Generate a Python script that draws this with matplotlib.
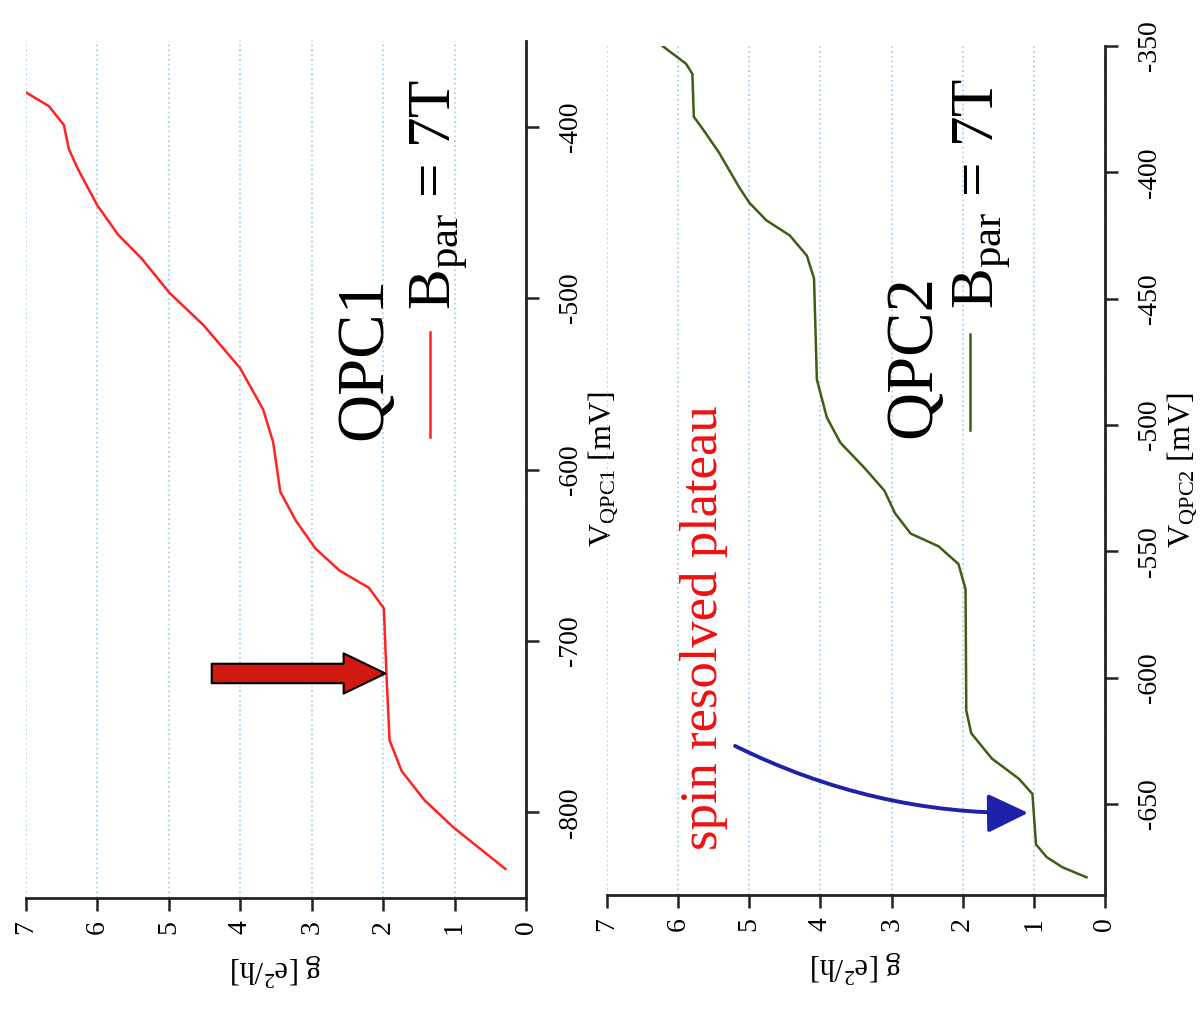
import numpy as np
import matplotlib
matplotlib.use("Agg")
import matplotlib.pyplot as plt
from matplotlib.patches import FancyArrowPatch

plt.rcParams['font.family'] = ['Liberation Serif', 'DejaVu Serif']
plt.rcParams['mathtext.fontset'] = 'custom'
plt.rcParams['mathtext.rm'] = 'Liberation Serif'
plt.rcParams['mathtext.it'] = 'Liberation Serif:italic'
plt.rcParams['axes.unicode_minus'] = False

# QPC1 trace (gate voltage mV, conductance e^2/h)
v_qpc1 = [-833, -809, -793, -776, -758, -723, -681, -669, -659, -646, -630, -613,
          -584, -565, -541, -516, -497, -477, -463, -446, -425, -413, -399, -388, -380]
g_qpc1 = [0.29, 1.01, 1.42, 1.74, 1.91, 1.95, 1.99, 2.20, 2.61, 2.95, 3.22, 3.44,
          3.54, 3.68, 4.00, 4.51, 4.99, 5.38, 5.71, 6.00, 6.27, 6.40, 6.47, 6.68, 7.0]

# QPC2 trace
v_qpc2 = [-679, -675, -671, -666, -646, -640, -632, -622, -613, -565, -555, -548,
          -543, -535, -526, -517, -507, -497, -482, -442, -433, -425, -419, -412,
          -406, -392, -383, -378, -361, -357, -350]
g_qpc2 = [0.26, 0.60, 0.82, 0.97, 1.02, 1.21, 1.59, 1.88, 1.95, 1.96, 2.06, 2.34,
          2.73, 2.95, 3.10, 3.38, 3.72, 3.91, 4.05, 4.09, 4.19, 4.43, 4.76, 5.0,
          5.14, 5.43, 5.65, 5.78, 5.80, 5.89, 6.22]

g_ticks = [0, 1, 2, 3, 4, 5, 6, 7]
v1_ticks = [-800, -700, -600, -500, -400]
v2_ticks = [-650, -600, -550, -500, -450, -400, -350]

fig = plt.figure(figsize=(12, 10.15), dpi=100)
ax1 = fig.add_axes([26/1200, 1-898/1015, 500/1200, 857/1015])
ax2 = fig.add_axes([607/1200, 1-895/1015, 498/1200, 849/1015])


def style(ax, vticks, vlim, vlabel):
    ax.set_facecolor('none')
    ax.set_xlim(7, 0)
    ax.set_ylim(*vlim)
    ax.set_xticks(g_ticks)
    ax.set_yticks(vticks)
    ax.yaxis.tick_right()
    ax.yaxis.set_label_position('right')
    for s in ['top', 'left']:
        ax.spines[s].set_visible(False)
    for s in ['bottom', 'right']:
        ax.spines[s].set_linewidth(2)
        ax.spines[s].set_color('#222222')
    ax.tick_params(axis='both', direction='out', length=9, width=1.8,
                   labelsize=20, color='#222222')
    ax.tick_params(axis='x', labelrotation=90, pad=7)
    ax.tick_params(axis='y', labelrotation=90, pad=14)
    for lab in ax.get_yticklabels():
        lab.set_va('center')
    ax.grid(axis='x', color='#a8d4f0', linestyle=':', linewidth=1.3)
    ax.set_xlabel(r'g [e$^{2}$/h]', fontsize=22, rotation=180, labelpad=12)
    ax.set_ylabel(vlabel, fontsize=23, rotation=90, labelpad=2)


style(ax1, v1_ticks, (-850, -350), r'V$_{\rm QPC1}$ [mV]')
style(ax2, v2_ticks, (-686, -350), r'V$_{\rm QPC2}$ [mV]')

ax1.plot(g_qpc1, v_qpc1, color='#ff2222', lw=1.8)
ax2.plot(g_qpc2, v_qpc2, color='#3d5e14', lw=1.8)

# labels / legends (rotated like the rest of the figure)
ax1.text(2.02, -583, 'QPC1', fontsize=48, rotation=90, rotation_mode='anchor',
         ha='left', va='baseline')
ax1.text(1.06, -507, r'B$_{\rm par}$ = 7T', fontsize=44, rotation=90,
         rotation_mode='anchor', ha='left', va='baseline')
ax1.plot([1.34, 1.34], [-520, -581], color='#ff2222', lw=1.8)

ax2.text(2.46, -505, 'QPC2', fontsize=48, rotation=90, rotation_mode='anchor',
         ha='left', va='baseline')
ax2.text(1.57, -454, r'B$_{\rm par}$ = 7T', fontsize=44, rotation=90,
         rotation_mode='anchor', ha='left', va='baseline')
ax2.plot([1.90, 1.90], [-464, -502], color='#3d5e14', lw=1.8)

ax2.text(5.45, -668, 'spin resolved plateau', fontsize=38, color='#ee1111',
         rotation=90, rotation_mode='anchor', ha='left', va='baseline')

# red block arrow pointing at the 2 e^2/h plateau
red_arrow = FancyArrowPatch((4.40, -719), (1.97, -719),
                            arrowstyle='simple,head_width=29,head_length=30,tail_width=14',
                            mutation_scale=1, fc='#d01a10', ec='black', lw=1.5,
                            shrinkA=0, shrinkB=0, zorder=5)
ax1.add_patch(red_arrow)

# curved blue arrow to the 1 e^2/h plateau
blue_arrow = FancyArrowPatch((5.20, -627), (1.08, -653.5),
                             connectionstyle='arc3,rad=0.12',
                             arrowstyle='-|>,head_width=12,head_length=25',
                             mutation_scale=1, color='#1e22a8', lw=2.8,
                             shrinkA=0, shrinkB=0, zorder=5)
ax2.add_patch(blue_arrow)

fig.savefig('out.png', dpi=100)
